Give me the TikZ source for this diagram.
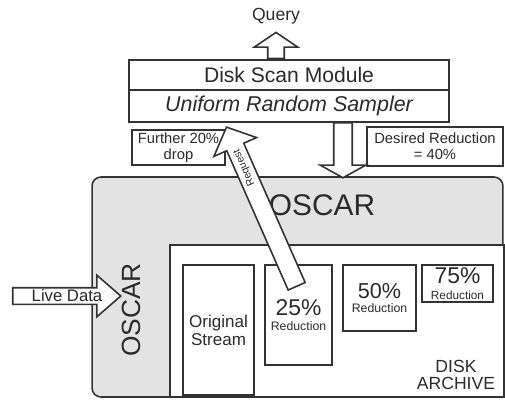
\documentclass[tikz,border=0pt]{standalone}
\usepackage{fontspec}
\setmainfont{Liberation Sans}
\usepackage{xcolor}
\definecolor{oscarLine}{HTML}{333333}
\definecolor{oscarFill}{HTML}{E3E3E3}
\definecolor{oscarText}{HTML}{2B2B2B}
\usetikzlibrary{shapes.arrows,calc}

\tikzset{
  boxnode/.style={rectangle, draw=oscarLine, line width=0.9pt, fill=white, text=oscarText, align=center, inner sep=0pt},
  blockarrow/.style={single arrow, draw=oscarLine, line width=0.9pt, fill=white, inner xsep=0pt, minimum width=0pt},
  plaintext/.style={text=oscarText, align=center, inner sep=0pt},
}

\begin{document}
\begin{tikzpicture}[x=0.02cm, y=-0.02cm]
  \useasboundingbox (0,0) rectangle (505,400);
  % OSCAR and the disk archive
  \node[rectangle, rounded corners=0.18cm, draw=oscarLine, line width=0.9pt, fill=oscarFill, minimum width=8.22cm, minimum height=4.4cm] (oscar) at (297.5,287) {};
  \node[boxnode, minimum width=6.68cm, minimum height=3.04cm] (archive) at (337,321) {};
  \node[plaintext, font=\fontsize{17}{20}\selectfont] (oscartop) at (322,205) {OSCAR};
  \node[plaintext, font=\fontsize{15}{18}\selectfont, rotate=90] (oscarside) at (131,310) {OSCAR};
  \node[plaintext, font=\fontsize{10}{9.6}\selectfont] (disklbl) at (456,375) {DISK\\ARCHIVE};

  % samples kept on disk
  \node[boxnode, minimum width=1.42cm, minimum height=2.6cm, font=\fontsize{9.7}{10.2}\selectfont] (orig) at (218.5,330) {Original\\Stream};
  \node[boxnode, minimum width=1.34cm, minimum height=2cm, font=\fontsize{7}{8.8}\selectfont] (r25) at (298.5,315) {{\fontsize{13}{8.8}\selectfont 25\%}\\Reduction};
  \node[boxnode, minimum width=1.46cm, minimum height=1.32cm, font=\fontsize{7}{8.2}\selectfont] (r50) at (379.5,298) {{\fontsize{12.3}{8.2}\selectfont 50\%}\\Reduction};
  \node[boxnode, minimum width=1.42cm, minimum height=0.74cm, font=\fontsize{6.7}{9}\selectfont] (r75) at (457.5,283.5) {{\fontsize{13}{9}\selectfont 75\%}\\Reduction};

  % disk scan module
  \node[boxnode, minimum width=6.4cm, minimum height=0.6cm, font=\fontsize{12}{14}\selectfont] (dsm) at (289,75) {Disk Scan Module};
  \node[boxnode, minimum width=6.4cm, minimum height=0.64cm, font=\fontsize{12.2}{14}\selectfont\itshape] (urs) at (289,106) {Uniform Random Sampler};
  \node[plaintext, font=\fontsize{10}{12}\selectfont] (query) at (276,16) {Query};

  \node[boxnode, minimum width=1.86cm, minimum height=0.7cm, font=\fontsize{8.4}{9}\selectfont] (further) at (178.5,147.5) {Further 20\%\\drop};
  \node[boxnode, minimum width=2.72cm, minimum height=0.78cm, font=\fontsize{8.4}{9}\selectfont] (desired) at (435,146.5) {Desired Reduction\\= 40\%};

  % block arrows
  \node[blockarrow, minimum height=0.52cm, inner ysep=0.15cm, single arrow head extend=0.27cm, single arrow tip angle=112, rotate=90, anchor=tail] (qarrow) at (dsm.north -| query) {};
  \node[blockarrow, minimum height=1.1cm, inner ysep=0.17cm, single arrow head extend=0.27cm, single arrow tip angle=122, rotate=-90, anchor=tail] (darrow) at (343,122) {};
  \node[blockarrow, minimum height=2.16cm, inner ysep=0.15cm, single arrow head extend=0.25cm, single arrow tip angle=82, anchor=tail] (live) at (12,296) {};
  \node[plaintext, font=\fontsize{9.5}{10}\selectfont] (livetxt) at ($(live.tail)!0.5!(live.tip)$) {Live Data};
  \node[blockarrow, minimum height=3.48cm, inner ysep=0.17cm, single arrow head extend=0.28cm, single arrow tip angle=94, rotate=113.8, anchor=tail] (req) at (297,287) {};
  \node[plaintext, font=\fontsize{6}{7}\selectfont, rotate=113.8] (reqtxt) at ($(req.tail)!0.74!(req.tip)$) {Request};
\end{tikzpicture}
\end{document}
